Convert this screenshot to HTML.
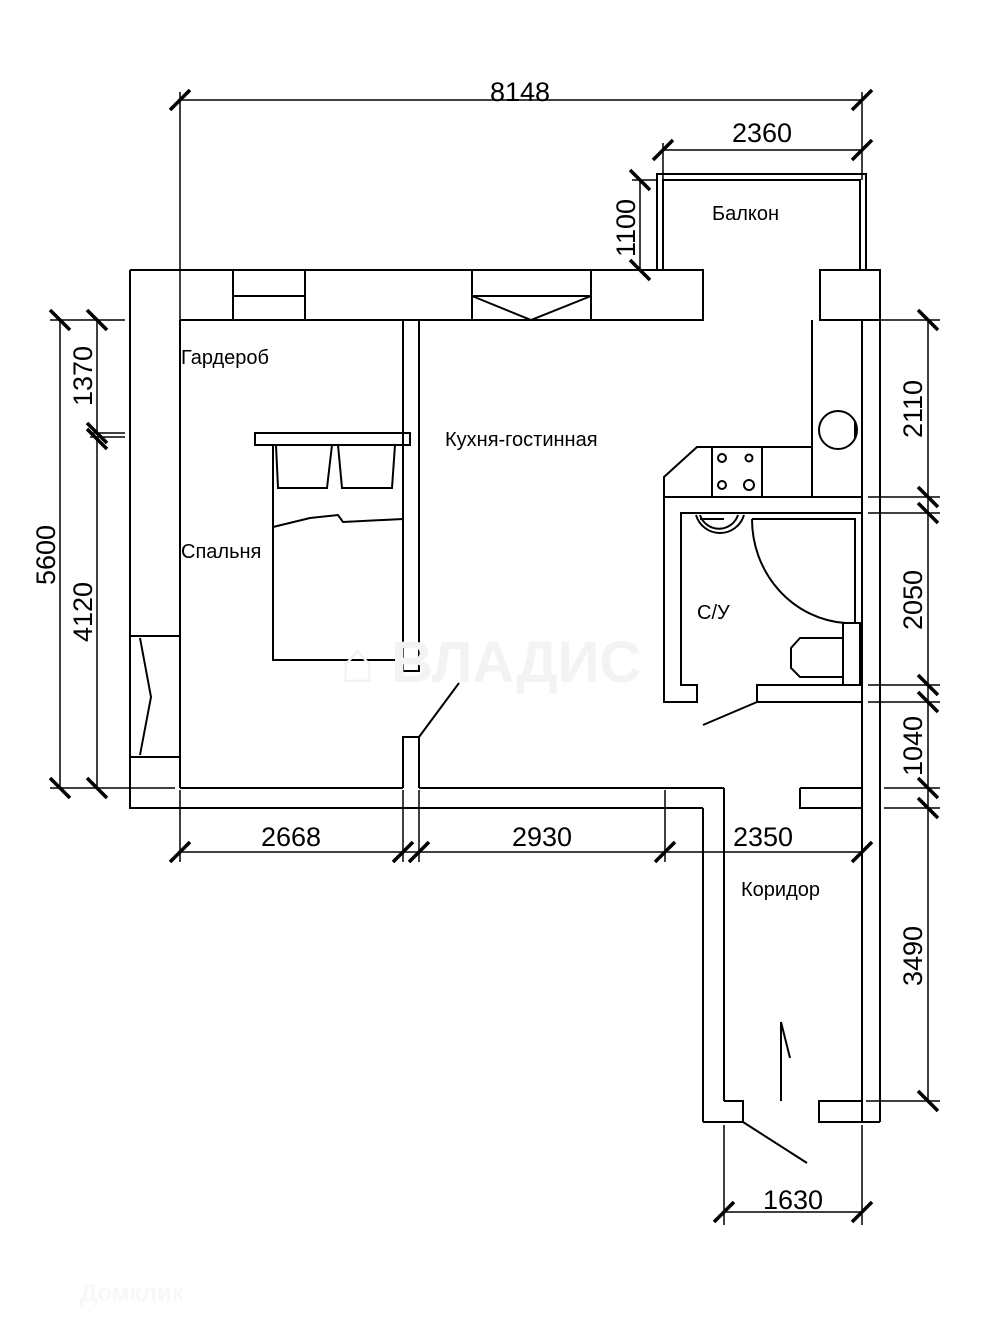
<!DOCTYPE html>
<html><head><meta charset="utf-8"><style>
html,body{margin:0;padding:0;background:#fff;width:995px;height:1336px;overflow:hidden}
svg{display:block}
text{font-family:"Liberation Sans",Arial,sans-serif;fill:#000}
</style></head><body>
<svg width="995" height="1336" viewBox="0 0 995 1336" xmlns="http://www.w3.org/2000/svg">
<g fill="none" stroke="#000" stroke-width="2">
<path d="M130 270 H703 V320 H180"/>
<line x1="233" y1="270" x2="233" y2="320"/>
<line x1="305" y1="270" x2="305" y2="320"/>
<line x1="233" y1="296" x2="305" y2="296"/>
<line x1="472" y1="270" x2="472" y2="320"/>
<line x1="591" y1="270" x2="591" y2="320"/>
<path d="M472 296 L531 320 L591 296 Z"/>
<path d="M130 270 V808 H703"/>
<line x1="180" y1="320" x2="180" y2="788"/>
<line x1="130" y1="636" x2="180" y2="636"/>
<line x1="130" y1="757" x2="180" y2="757"/>
<path d="M140 638 L151 697 L140 755"/>
<line x1="180" y1="788" x2="403" y2="788"/>
<line x1="419" y1="788" x2="724" y2="788"/>
<path d="M657 270 V174 H866 V270"/>
<path d="M663 270 V180 H860 V270"/>
<rect x="820" y="270" width="60" height="50"/>
<line x1="880" y1="320" x2="880" y2="1122"/>
<line x1="862" y1="320" x2="862" y2="1122"/>
<path d="M812 320 V497"/>
<circle cx="838" cy="430" r="19"/>
<line x1="855" y1="422" x2="855" y2="438"/>
<path d="M812 447 H697 L664 477 V702 H697 V685 H681 V513 H862"/>
<line x1="664" y1="497" x2="862" y2="497"/>
<rect x="712" y="447" width="50" height="50"/>
<circle cx="722" cy="458" r="4"/><circle cx="749" cy="458" r="3.5"/>
<circle cx="722" cy="485" r="4"/><circle cx="749" cy="485" r="5"/>
<path d="M862 685 H757 V702 H862"/>
<line x1="757" y1="702" x2="703" y2="725"/>
<path d="M696 515 A25 25 0 0 0 744 515"/>
<path d="M700 515 A20 20 0 0 0 738 515"/>
<line x1="700" y1="519" x2="724" y2="519"/>
<path d="M752 519 H855 V623"/>
<path d="M752 519 A100 104 0 0 0 845 623"/>
<rect x="843" y="623" width="17" height="62"/>
<path d="M843 638 H800 L791 648 V668 L800 677 H843"/>
<path d="M800 788 H862 M800 788 V808 H862"/>
<line x1="703" y1="808" x2="703" y2="1122"/>
<line x1="724" y1="788" x2="724" y2="1101"/>
<path d="M703 1122 H743 V1101 H724"/>
<path d="M862 1101 H819 V1122 H880"/>
<line x1="743" y1="1122" x2="807" y2="1163"/>
<line x1="781" y1="1101" x2="781" y2="1022"/>
<line x1="781" y1="1022" x2="790" y2="1058"/>
<rect x="403" y="320" width="16" height="351"/>
<path d="M403 788 V737 H419 V788"/>
<line x1="419" y1="737" x2="459" y2="683"/>
<rect x="255" y="433" width="155" height="12"/>
<rect x="273" y="445" width="130" height="215"/>
<path d="M276 445 L278 488 L327 488 L332 445 M338 445 L342 488 L392 488 L395 445"/>
<path d="M273 527 L310 518 L338 515 L343 522 L403 519"/>
<g stroke-width="1.5">
<line x1="180" y1="92" x2="180" y2="320"/>
<line x1="180" y1="100" x2="862" y2="100"/>
<line x1="862" y1="92" x2="862" y2="180"/>
<line x1="663" y1="150" x2="862" y2="150"/>
<line x1="663" y1="143" x2="663" y2="180"/>
<line x1="640" y1="180" x2="640" y2="270"/>
<line x1="632" y1="180" x2="657" y2="180"/>
<line x1="50" y1="320" x2="125" y2="320"/>
<line x1="60" y1="320" x2="60" y2="788"/>
<line x1="97" y1="320" x2="97" y2="433"/>
<line x1="97" y1="437" x2="97" y2="788"/>
<line x1="90" y1="433" x2="125" y2="433"/>
<line x1="90" y1="437" x2="125" y2="437"/>
<line x1="50" y1="788" x2="175" y2="788"/>
<line x1="180" y1="790" x2="180" y2="862"/>
<line x1="403" y1="790" x2="403" y2="862"/>
<line x1="419" y1="790" x2="419" y2="862"/>
<line x1="665" y1="790" x2="665" y2="862"/>
<line x1="180" y1="852" x2="862" y2="852"/>
<line x1="862" y1="808" x2="862" y2="862"/>
<line x1="868" y1="320" x2="940" y2="320"/>
<line x1="928" y1="320" x2="928" y2="1101"/>
<line x1="868" y1="497" x2="940" y2="497"/>
<line x1="868" y1="513" x2="940" y2="513"/>
<line x1="868" y1="685" x2="940" y2="685"/>
<line x1="868" y1="702" x2="940" y2="702"/>
<line x1="884" y1="788" x2="940" y2="788"/>
<line x1="884" y1="808" x2="940" y2="808"/>
<line x1="866" y1="1101" x2="940" y2="1101"/>
<line x1="724" y1="1125" x2="724" y2="1225"/>
<line x1="862" y1="1125" x2="862" y2="1225"/>
<line x1="724" y1="1212" x2="862" y2="1212"/>
</g>
</g>
<g stroke="#000" stroke-width="3.5">
<line x1="170" y1="110" x2="190" y2="90"/><line x1="852" y1="110" x2="872" y2="90"/>
<line x1="653" y1="160" x2="673" y2="140"/><line x1="852" y1="160" x2="872" y2="140"/>
<line x1="630" y1="170" x2="650" y2="190"/><line x1="630" y1="260" x2="650" y2="280"/>
<line x1="50" y1="310" x2="70" y2="330"/><line x1="87" y1="310" x2="107" y2="330"/>
<line x1="87" y1="423" x2="107" y2="443"/><line x1="87" y1="429" x2="107" y2="449"/>
<line x1="50" y1="778" x2="70" y2="798"/><line x1="87" y1="778" x2="107" y2="798"/>
<line x1="170" y1="862" x2="190" y2="842"/><line x1="393" y1="862" x2="413" y2="842"/>
<line x1="409" y1="862" x2="429" y2="842"/><line x1="655" y1="862" x2="675" y2="842"/>
<line x1="852" y1="862" x2="872" y2="842"/>
<line x1="918" y1="310" x2="938" y2="330"/>
<line x1="918" y1="487" x2="938" y2="507"/><line x1="918" y1="503" x2="938" y2="523"/>
<line x1="918" y1="675" x2="938" y2="695"/><line x1="918" y1="692" x2="938" y2="712"/>
<line x1="918" y1="778" x2="938" y2="798"/><line x1="918" y1="798" x2="938" y2="818"/>
<line x1="918" y1="1091" x2="938" y2="1111"/>
<line x1="714" y1="1222" x2="734" y2="1202"/><line x1="852" y1="1222" x2="872" y2="1202"/>
</g>
<text x="340" y="682" font-size="58" font-weight="bold" style="fill:#f3f3f3">⌂ ВЛАДИС</text>
<text x="80" y="1301" font-size="24" font-weight="bold" style="fill:#f8f8f8">Домклик</text>
<g font-size="27">
<text x="520" y="101" text-anchor="middle">8148</text>
<text x="762" y="142" text-anchor="middle">2360</text>
<text x="291" y="846" text-anchor="middle">2668</text>
<text x="542" y="846" text-anchor="middle">2930</text>
<text x="763" y="846" text-anchor="middle">2350</text>
<text x="793" y="1209" text-anchor="middle">1630</text>
<text transform="translate(635,228) rotate(-90)" text-anchor="middle">1100</text>
<text transform="translate(55,555) rotate(-90)" text-anchor="middle">5600</text>
<text transform="translate(92,376) rotate(-90)" text-anchor="middle">1370</text>
<text transform="translate(92,612) rotate(-90)" text-anchor="middle">4120</text>
<text transform="translate(922,409) rotate(-90)" text-anchor="middle">2110</text>
<text transform="translate(922,600) rotate(-90)" text-anchor="middle">2050</text>
<text transform="translate(922,746) rotate(-90)" text-anchor="middle">1040</text>
<text transform="translate(922,956) rotate(-90)" text-anchor="middle">3490</text>
</g>
<g font-size="20">
<text x="712" y="220">Балкон</text>
<text x="181" y="364">Гардероб</text>
<text x="445" y="446">Кухня-гостинная</text>
<text x="181" y="558">Спальня</text>
<text x="697" y="619">С/У</text>
<text x="741" y="896">Коридор</text>
</g>
</svg>
</body></html>
